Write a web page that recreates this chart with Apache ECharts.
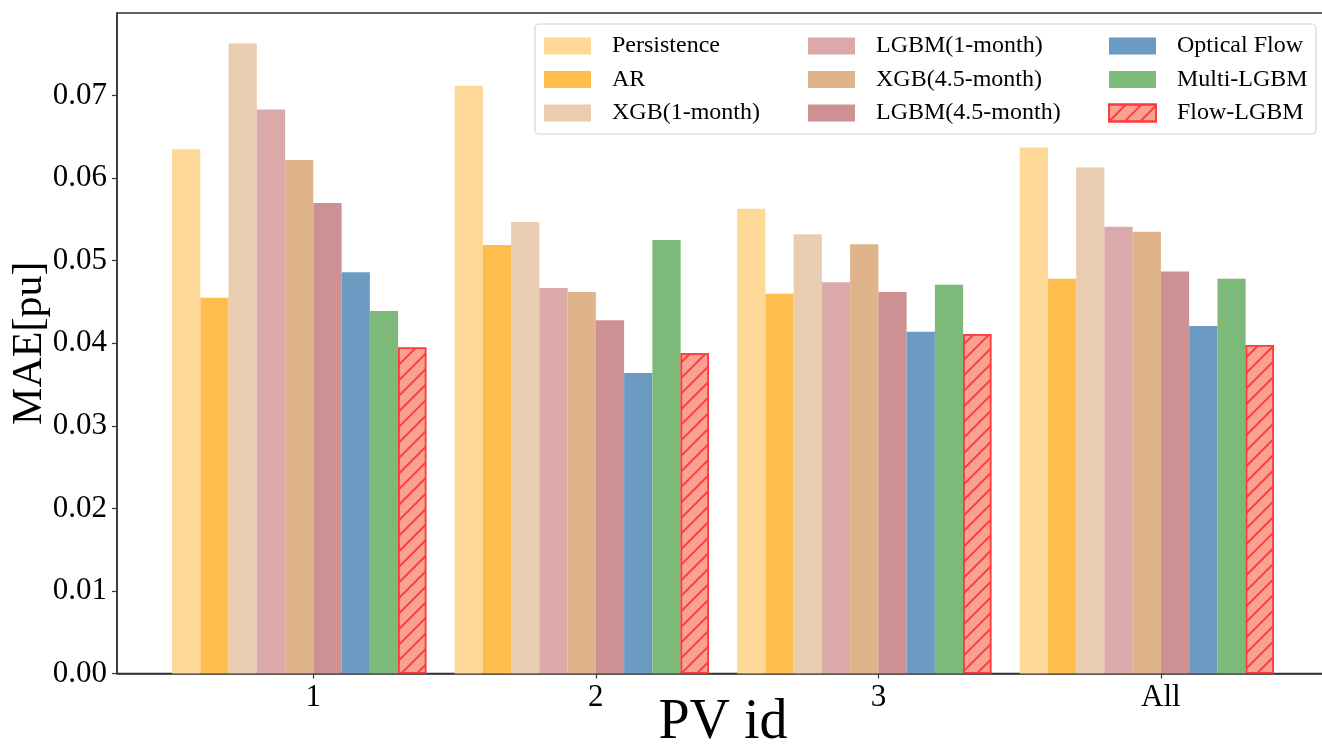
<!DOCTYPE html>
<html>
<head>
<meta charset="utf-8">
<script src="https://cdn.jsdelivr.net/npm/echarts@6/dist/echarts.min.js"></script>
<style>
  html, body { margin: 0; padding: 0; background: #fff; }
  #main { width: 1322px; height: 747px; }
</style>
</head>
<body>
<div id="main"></div>
<script>
var chart = echarts.init(document.getElementById('main'));

// data
var pvIds = ['1', '2', '3', 'All'];
var methods = ['Persistence', 'AR', 'XGB(1-month)', 'LGBM(1-month)', 'XGB(4.5-month)',
    'LGBM(4.5-month)', 'Optical Flow', 'Multi-LGBM', 'Flow-LGBM'];
var persistence = [0.0635, 0.0712, 0.0563, 0.0637];
var ar          = [0.0455, 0.0519, 0.0460, 0.0478];
var xgb1        = [0.0763, 0.0547, 0.0532, 0.0613];
var lgbm1       = [0.0683, 0.0467, 0.0474, 0.0541];
var xgb45       = [0.0622, 0.0462, 0.0520, 0.0535];
var lgbm45      = [0.0570, 0.0428, 0.0462, 0.0487];
var opticalFlow = [0.0486, 0.0364, 0.0414, 0.0421];
var multiLgbm   = [0.0439, 0.0525, 0.0471, 0.0478];
var flowLgbm    = [0.0395, 0.0388, 0.0411, 0.0398];
var yTicks = [0, 0.01, 0.02, 0.03, 0.04, 0.05, 0.06, 0.07];

var allValues = [persistence, ar, xgb1, lgbm1, xgb45, lgbm45, opticalFlow, multiLgbm, flowLgbm];
var colors = ['#fdd896', '#fdbe4e', '#eaccb0', '#dba9aa', '#e0b48a', '#ce9193', '#6b9bc3', '#7dba7a', '#f9a293'];

var font = 'Liberation Serif';
var plotLeft = 117, plotTop = 13, plotW = 1212, plotH = 660.5;
// x extent in "matplotlib" units; bars of group i span [i-0.5, i+0.4]
var xMin = -0.695, xMax = 3.595;
var unit = plotW / (xMax - xMin);
var barGridLeft = plotLeft + (-0.5 - xMin) * unit - 0.05 * unit;

var series = methods.map(function (name, i) {
    var s = {
        name: name,
        type: 'bar',
        xAxisIndex: 1,
        yAxisIndex: 1,
        barGap: '0%',
        barCategoryGap: '10%',
        data: allValues[i],
        itemStyle: { color: colors[i] },
        emphasis: { disabled: true },
        z: 2
    };
    if (name === 'Flow-LGBM') {
        s.itemStyle = {
            color: colors[i],
            borderColor: '#ff3b3b',
            borderWidth: 1.5,
            decal: {
                symbol: 'rect',
                color: 'rgba(255,45,45,0.85)',
                dashArrayX: [1, 0],
                dashArrayY: [1.4, 8.6],
                rotation: -Math.PI / 4
            }
        };
    }
    return s;
});

function legendCol(left, names) {
    return {
        orient: 'vertical',
        left: left,
        top: 34,
        padding: 0,
        itemWidth: 47,
        itemHeight: 17,
        itemGap: 9.5,
        icon: 'rect',
        z: 10,
        data: names,
        textStyle: {
            fontFamily: font,
            fontSize: 24,
            lineHeight: 24,
            color: '#000',
            padding: [0, 0, 0, 16]
        }
    };
}

var option = {
    animation: false,
    backgroundColor: '#fff',
    grid: [
        { left: plotLeft, top: plotTop, width: plotW, height: plotH, show: true,
          outerBoundsMode: 'none', containLabel: false,
          borderColor: '#333', borderWidth: 1.5, backgroundColor: 'transparent' },
        { left: barGridLeft, top: plotTop, width: 4 * unit, height: plotH,
          outerBoundsMode: 'none', containLabel: false }
    ],
    xAxis: [
        {
            type: 'value',
            gridIndex: 0,
            min: xMin,
            max: xMax,
            name: 'PV id',
            nameLocation: 'middle',
            nameMoveOverlap: false,
            nameGap: 22,
            nameTextStyle: { fontFamily: font, fontSize: 56, color: '#000', verticalAlign: 'top', lineHeight: 56 },
            splitLine: { show: false },
            axisLine: { show: true, onZero: false, lineStyle: { color: '#333', width: 1.5 } },
            axisTick: { show: true, length: 5, customValues: [0, 1, 2, 3], lineStyle: { color: '#333', width: 1.2 } },
            axisLabel: {
                customValues: [0, 1, 2, 3],
                formatter: function (v) { return pvIds[Math.round(v)]; },
                fontFamily: font, fontSize: 31, color: '#000', margin: 9
            }
        },
        {
            type: 'category',
            gridIndex: 1,
            data: pvIds,
            axisLine: { show: false },
            axisTick: { show: false },
            axisLabel: { show: false }
        }
    ],
    yAxis: [
        {
            type: 'value',
            gridIndex: 0,
            min: 0,
            max: 0.08,
            name: 'MAE[pu]',
            nameLocation: 'middle',
            nameMoveOverlap: false,
            nameGap: 66,
            nameTextStyle: { fontFamily: font, fontSize: 42, color: '#000' },
            splitLine: { show: false },
            axisLine: { show: true, onZero: false, lineStyle: { color: '#333', width: 1.5 } },
            axisTick: { show: true, length: 5, customValues: yTicks, lineStyle: { color: '#333', width: 1.2 } },
            axisLabel: {
                customValues: yTicks,
                formatter: function (v) { return v.toFixed(2); },
                fontFamily: font, fontSize: 31, color: '#000', margin: 10
            }
        },
        {
            type: 'value',
            gridIndex: 1,
            min: 0,
            max: 0.08,
            show: false,
            splitLine: { show: false }
        }
    ],
    legend: [
        legendCol(544, methods.slice(0, 3)),
        legendCol(808, methods.slice(3, 6)),
        legendCol(1108, methods.slice(6, 9))
    ],
    graphic: [{
        type: 'rect',
        z: 5,
        shape: { x: 535, y: 24, width: 781, height: 110, r: 4 },
        style: { fill: 'rgba(255,255,255,0.85)', stroke: '#d4d4d4', lineWidth: 1.2 }
    }],
    series: series
};
chart.setOption(option);
</script>
</body>
</html>
